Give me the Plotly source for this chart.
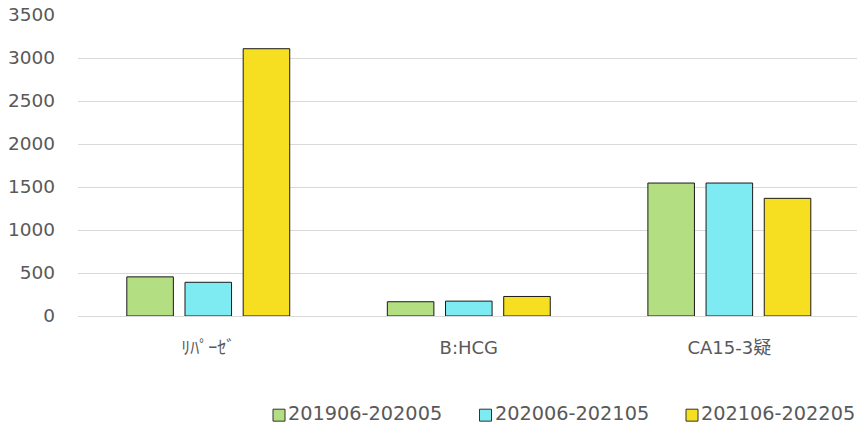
import plotly.graph_objects as go

# Categories (test items) and yearly totals per period
categories = ["ﾘﾊﾟｰｾﾞ", "B:HCG", "CA15-3疑"]
periods = ["201906-202005", "202006-202105", "202106-202205"]
values_2019 = [455, 166, 1546]
values_2020 = [392, 173, 1546]
values_2021 = [3108, 227, 1368]

series = [values_2019, values_2020, values_2021]
colors = ["#b3de82", "#7eeaf1", "#f6de20"]
outline = "#1a1a1a"
text_color = "#595959"
font_family = "DejaVu Sans, Noto Sans CJK JP, sans-serif"

W, H = 857, 427
ML, MR, MT, MB = 78, 0, 14.5, 110.5
plot_w = W - ML - MR
plot_h = H - MT - MB


def px_to_paper_x(px):
    return (px - ML) / plot_w


def px_to_paper_y(py):
    return (H - MB - py) / plot_h


fig = go.Figure()
for name, vals, col in zip(periods, series, colors):
    fig.add_trace(go.Bar(
        x=categories, y=vals, name=name, showlegend=False,
        marker=dict(color=col, line=dict(color=outline, width=1)),
    ))

# Legend drawn below the plot: small outlined square followed by the label
legend_x0 = 273
legend_pitch = 206.5
legend_cy = 416
square = 12
for i, (name, col) in enumerate(zip(periods, colors)):
    sx = legend_x0 + i * legend_pitch
    fig.add_shape(
        type="rect", xref="paper", yref="paper",
        x0=px_to_paper_x(sx), x1=px_to_paper_x(sx + square),
        y0=px_to_paper_y(legend_cy + square / 2), y1=px_to_paper_y(legend_cy - square / 2),
        fillcolor=col, line=dict(color="#333333", width=1),
    )
    fig.add_annotation(
        x=px_to_paper_x(sx + square + 1), y=px_to_paper_y(legend_cy - 2),
        xref="paper", yref="paper", xanchor="left", yanchor="middle",
        text=name, showarrow=False,
        font=dict(family=font_family, size=19.3, color=text_color),
    )

fig.update_layout(
    width=W, height=H,
    margin=dict(l=ML, r=MR, t=MT, b=MB),
    paper_bgcolor="white", plot_bgcolor="white",
    barmode="group", bargap=0.33, bargroupgap=0.2,
    font=dict(family=font_family, size=18, color=text_color),
    showlegend=False,
    xaxis=dict(range=[-0.5, 2.49], showgrid=False, showline=False, ticks="",
               ticklabelstandoff=19,
               tickfont=dict(family=font_family, size=18, color=text_color)),
    yaxis=dict(range=[0, 3500], dtick=500, showgrid=True, gridcolor="#d9d9d9",
               gridwidth=1.3, zeroline=True, zerolinecolor="#d9d9d9", zerolinewidth=1.3,
               showline=False, ticks="", ticklabelstandoff=22,
               tickfont=dict(family=font_family, size=18.5, color=text_color)),
)

fig.write_html("out.html")
